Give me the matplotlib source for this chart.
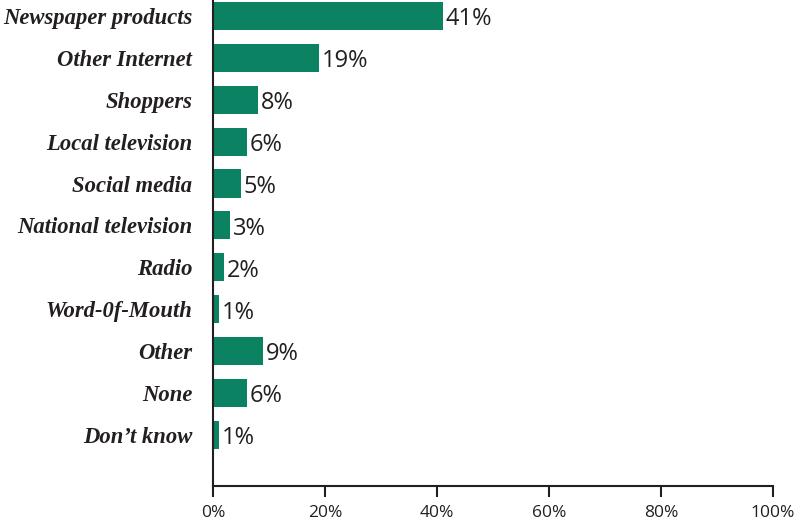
import matplotlib
matplotlib.use("Agg")
import matplotlib.pyplot as plt

categories = ["Newspaper products", "Other Internet", "Shoppers", "Local television",
              "Social media", "National television", "Radio", "Word-0f-Mouth",
              "Other", "None", "Don\u2019t know"]
values = [41, 19, 8, 6, 5, 3, 2, 1, 9, 6, 1]
xticks = [0, 20, 40, 60, 80, 100]
xtick_labels = ["0%", "20%", "40%", "60%", "80%", "100%"]

bar_color = "#0b8363"
text_color = "#231f20"

fig = plt.figure(figsize=(8.04, 5.24), dpi=100)
ax = fig.add_axes([213/804, 1 - 486/524, 560/804, 486/524])

ypos = list(range(len(categories)))
ax.barh(ypos, values, height=0.67, color=bar_color)
for y, v in zip(ypos, values):
    ax.text(v + 0.5, y + 0.08, f"{v}%", va="center", ha="left", fontsize=17,
            family="Open Sans", color=text_color)

ax.set_ylim(11.22, -0.38)
ax.set_xlim(0, 100)
ax.set_yticks(ypos)
ax.set_yticklabels(categories, fontsize=16.3, family="Liberation Serif",
                   style="italic", weight="bold", color=text_color)
ax.tick_params(axis="y", length=0, pad=15)
ax.set_xticks(xticks)
ax.set_xticklabels(xtick_labels, fontsize=12.5, family="Open Sans", color=text_color)
ax.tick_params(axis="x", length=8, width=1.5, direction="out", color=text_color, pad=6)
for s in ["top", "right"]:
    ax.spines[s].set_visible(False)
for s in ["left", "bottom"]:
    ax.spines[s].set_color(text_color)
    ax.spines[s].set_linewidth(1.5)

fig.savefig("out.png", dpi=100)
